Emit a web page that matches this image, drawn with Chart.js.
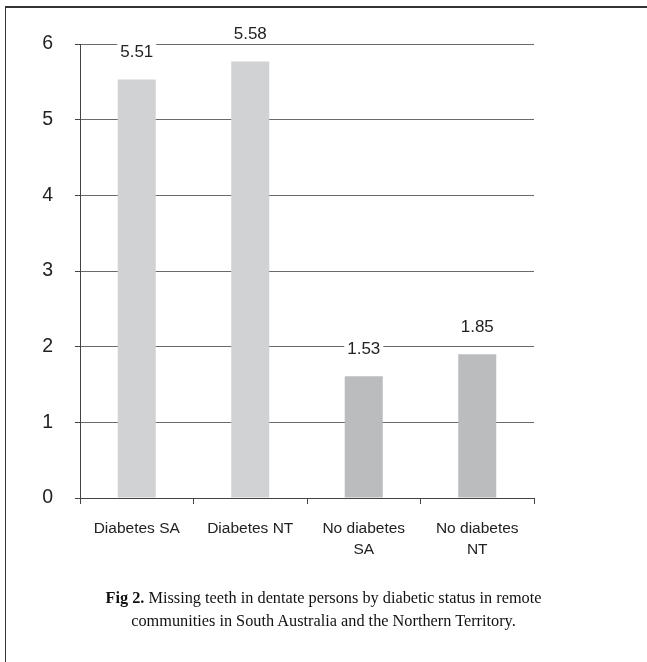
<!DOCTYPE html>
<html>
<head>
<meta charset="utf-8">
<script src="https://cdn.jsdelivr.net/npm/chart.js@4/dist/chart.umd.min.js"></script>
<style>
  html, body { margin: 0; padding: 0; background: #fff; }
  body { width: 647px; height: 662px; position: relative; overflow: hidden; }
  #frame { position: absolute; left: 5px; top: 6px; width: 700px; height: 700px;
           border-left: 1.5px solid #333; border-top: 2px solid #333; }
  #wrap { position: absolute; left: 0; top: 0; width: 647px; height: 662px; }
  #caption { position: absolute; left: 0; width: 647px; top: 586px; text-align: center;
             font-family: "Liberation Serif", "Times New Roman", serif; font-size: 16.3px;
             line-height: 23px; color: #111; }
</style>
</head>
<body>
<div id="frame"></div>
<div id="wrap"><canvas id="chart"></canvas></div>
<div id="caption"><b>Fig 2.</b> Missing teeth in dentate persons by diabetic status in remote<br>communities in South Australia and the Northern Territory.</div>
<script>
// categories and values
var categories = [['Diabetes SA'], ['Diabetes NT'], ['No diabetes', 'SA'], ['No diabetes', 'NT']];
var barValues = [5.53, 5.77, 1.61, 1.90];       // bar heights as drawn
var valueLabels = ['5.51', '5.58', '1.53', '1.85']; // printed data labels
var barColors = ['#d1d2d4', '#d1d2d4', '#bbbcbe', '#bbbcbe'];
var yTicks = [0, 1, 2, 3, 4, 5, 6];

// white-backed value labels above each bar
var valueLabelPlugin = {
  id: 'valueLabels',
  afterDatasetsDraw: function (chart) {
    var ctx = chart.ctx;
    var meta = chart.getDatasetMeta(0);
    ctx.save();
    ctx.font = '17px "Liberation Sans", Arial, sans-serif';
    ctx.textAlign = 'center';
    ctx.textBaseline = 'middle';
    meta.data.forEach(function (bar, i) {
      var txt = valueLabels[i];
      var w = ctx.measureText(txt).width;
      var y = bar.y - 27;
      ctx.fillStyle = '#fff';
      ctx.fillRect(bar.x - w / 2 - 3, y - 9, w + 6, 18);
      ctx.fillStyle = '#222';
      ctx.fillText(txt, bar.x, y);
    });
    ctx.restore();
  }
};

new Chart(document.getElementById('chart'), {
  type: 'bar',
  data: {
    labels: categories,
    datasets: [{
      data: barValues,
      backgroundColor: barColors,
      borderWidth: 0,
      barPercentage: 0.67,
      categoryPercentage: 0.5
    }]
  },
  options: {
    responsive: true,
    maintainAspectRatio: false,
    animation: false,
    layout: { padding: { left: 0, right: 113, top: 44, bottom: 94 } },
    plugins: { legend: { display: false }, tooltip: { enabled: false } },
    scales: {
      x: {
        offset: true,
        grid: { display: true, offset: true, drawOnChartArea: false, drawTicks: true,
                tickLength: 6, tickColor: '#444', tickWidth: 1 },
        border: { display: true, color: '#444', width: 1 },
        ticks: { color: '#222', padding: 15, maxRotation: 0,
                 font: { family: '"Liberation Sans", Arial, sans-serif', size: 15.5, lineHeight: 1.3 } },
        afterFit: function (s) { s.height = 70; }
      },
      y: {
        min: 0, max: 6,
        afterBuildTicks: function (s) { s.ticks = yTicks.map(function (v) { return { value: v }; }); },
        grid: { color: '#6a6a6a', lineWidth: 1, borderDash: [1, 1], drawTicks: true,
                tickLength: 5, tickColor: '#444', tickBorderDash: [] },
        border: { display: true, color: '#444', width: 1 },
        ticks: { color: '#222', padding: 22,
                 font: { family: '"Liberation Sans", Arial, sans-serif', size: 19.5 } },
        afterFit: function (s) { s.width = 80; }
      }
    }
  },
  plugins: [valueLabelPlugin]
});
</script>
</body>
</html>
